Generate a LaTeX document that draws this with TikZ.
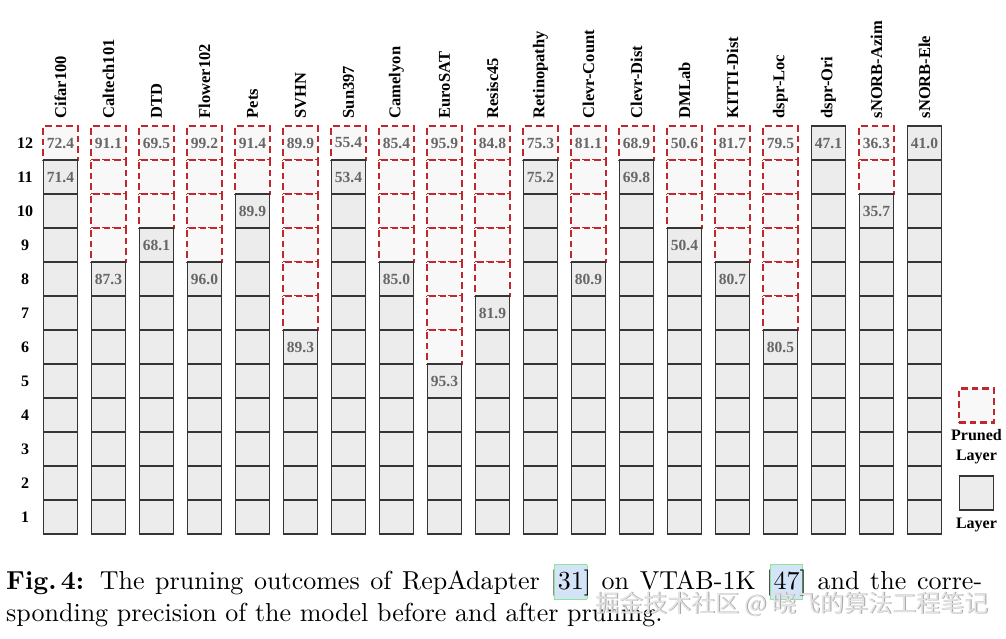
\documentclass[tikz,border=0pt]{standalone}
\usepackage{fontspec}
\newfontfamily\tnr{Liberation Serif}
\newfontfamily\cjk{Noto Sans CJK SC}
\newfontfamily\capfont[Extension=.otf,BoldFont=lmroman10-bold]{lmroman10-regular}
\definecolor{prunered}{HTML}{C0282D}
\definecolor{cellfill}{HTML}{ECECEC}
\definecolor{prunefill}{HTML}{F8F8F8}
\definecolor{cellline}{HTML}{353535}
\definecolor{numgrey}{HTML}{666666}
\definecolor{lblue}{HTML}{D3E3F8}
\definecolor{lgreen}{HTML}{8EE68E}
\newcommand\citebx[1]{\setbox0=\hbox{#1}\makebox[0pt][l]{\hspace*{-3.5pt}\raisebox{-10pt}[0pt][0pt]{\fboxsep=0pt\fboxrule=0.7pt\fcolorbox{lgreen}{lblue}{\rule{0pt}{34pt}\hspace*{\dimexpr\wd0+5.6pt\relax}}}}#1}
\begin{document}
\begin{tikzpicture}[x=1pt,y=-1pt,
  layercell/.style={draw=cellline, fill=cellfill, line width=1.3pt, minimum width=34.5pt, minimum height=34pt, inner sep=0pt, outer sep=0pt},
  prunedcell/.style={draw=prunered, fill=prunefill, line width=2.4pt, dash pattern=on 6.5pt off 4pt, minimum width=34.5pt, minimum height=34pt, inner sep=0pt, outer sep=0pt},
  numlabel/.style={font=\tnr\bfseries\fontsize{15.5}{15.5}\selectfont, text=numgrey, inner sep=0pt},
  collabel/.style={font=\tnr\bfseries\fontsize{16.5}{16.5}\selectfont, rotate=90, anchor=west, inner sep=0pt},
  rowlabel/.style={font=\tnr\bfseries\fontsize{16}{16}\selectfont, inner sep=0pt},
  legtext/.style={font=\tnr\bfseries\fontsize{16}{20}\selectfont, align=center, inner sep=0pt},
  captext/.style={font=\capfont\fontsize{26}{32}\selectfont, anchor=base west, inner sep=0pt}
]
\useasboundingbox[fill=white] (0,0) rectangle (1006,638);

% row labels
\foreach \r in {1,...,12}{
  \pgfmathsetmacro\cy{126+(12-\r)*34+17}
  \node[rowlabel] (row-\r) at (25,\cy) {\r};
}

% columns
\foreach \nm/\tp/\va/\vb [count=\k from 0] in {
  Cifar100/11/72.4/71.4, Caltech101/8/91.1/87.3, DTD/9/69.5/68.1,
  Flower102/8/99.2/96.0, Pets/10/91.4/89.9, SVHN/6/89.9/89.3,
  Sun397/11/55.4/53.4, Camelyon/8/85.4/85.0, EuroSAT/5/95.9/95.3,
  Resisc45/7/84.8/81.9, Retinopathy/11/75.3/75.2, Clevr-Count/8/81.1/80.9,
  Clevr-Dist/11/68.9/69.8, DMLab/9/50.6/50.4, KITTI-Dist/8/81.7/80.7,
  dspr-Loc/6/79.5/80.5, dspr-Ori/12/47.1/x, sNORB-Azim/10/36.3/35.7,
  sNORB-Ele/12/41.0/x}{
  \pgfmathsetmacro\cx{60.5+48*\k}
  \node[collabel] (lab-\k) at (\cx,118.5) {\nm};
  \foreach \r in {12,11,...,1}{
    \pgfmathsetmacro\cy{126+(12-\r)*34+17}
    \ifnum\r>\tp\relax
      \node[prunedcell] (c-\k-\r) at (\cx,\cy) {};
    \else
      \node[layercell] (c-\k-\r) at (\cx,\cy) {};
    \fi
  }
  \node[numlabel] (na-\k) at (c-\k-12) {\va};
  \ifnum\tp<12\relax
    \node[numlabel] (nb-\k) at (c-\k-\tp) {\vb};
  \fi
}

% legend
\node[prunedcell] (legp) at (976.5,405.5) {};
\node[legtext] (legpt) at (976.5,447) {Pruned\\Layer};
\node[layercell] (legl) at (976.5,493) {};
\node[legtext] (leglt) at (976.5,525) {Layer};

% caption
\node[captext] (cap1) at (6,589) {\makebox[976pt][s]{\textbf{Fig.\,4:} The pruning outcomes of RepAdapter [\citebx{31}] on VTAB-1K [\citebx{47}] and the corre-}};
\node[captext] (cap2) at (6,621) {sponding precision of the model before and after pruning.};

% watermark
\node[font=\cjk\fontsize{24}{24}\selectfont, text=gray!70, anchor=west, inner sep=0pt] (wms) at (595.8,604.8) {掘金技术社区 @ 晓飞的算法工程笔记};
\node[font=\cjk\fontsize{24}{24}\selectfont, text=gray!22, anchor=west, inner sep=0pt] (wm) at (595,604) {掘金技术社区 @ 晓飞的算法工程笔记};
\end{tikzpicture}
\end{document}
